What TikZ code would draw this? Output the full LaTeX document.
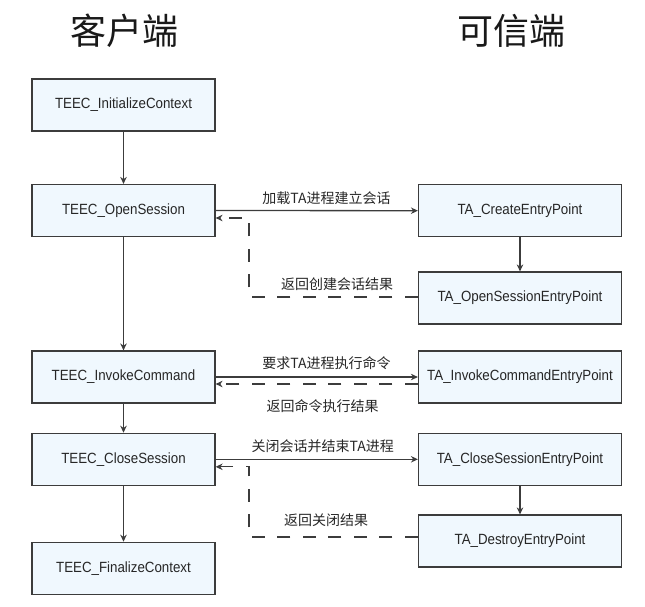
\documentclass[tikz,border=0pt]{standalone}
\usepackage{fontspec}
\setmainfont{Liberation Sans}
\newfontfamily\boxfont[FakeStretch=0.9]{Liberation Sans}
\newfontfamily\cjk{Noto Sans CJK SC}
\usetikzlibrary{arrows.meta}
\definecolor{boxfill}{RGB}{240,248,254}
\definecolor{linec}{RGB}{60,60,60}
\tikzset{
  fbox/.style={draw=linec, line width=1.2pt, fill=boxfill, inner sep=0pt,
    minimum height=52pt, font=\boxfont\fontsize{14.8}{16}\selectfont, text=black!85},
  lbox/.style={fbox, minimum width=183pt},
  rbox/.style={fbox, minimum width=203pt},
  flow/.style={draw=linec, line width=1.3pt, -{Stealth[length=7pt,width=6.5pt]}},
  ret/.style={draw=linec, line width=1.3pt, dash pattern=on 13pt off 12.5pt, -{Stealth[length=7pt,width=6.5pt]}},
  lab/.style={font=\cjk\fontsize{14}{16}\selectfont, text=black!85, inner sep=0pt},
  title/.style={font=\cjk\fontsize{36}{40}\selectfont, text=black!90, inner sep=0pt}
}
\begin{document}
\begin{tikzpicture}[x=1pt,y=-1pt]
\useasboundingbox (0,0) rectangle (645,606);
\node[title] (t1) at (124.5,30.5) {客户端};
\node[title] (t2) at (511,30.5) {可信端};

\node[lbox] (init) at (123.5,105) {TEEC\_InitializeContext};
\node[lbox] (open) at (123.5,210.5) {TEEC\_OpenSession};
\node[lbox] (invoke) at (123.5,377) {TEEC\_InvokeCommand};
\node[lbox] (close) at (123.5,459.3) {TEEC\_CloseSession};
\node[lbox] (final) at (123.5,568.3) {TEEC\_FinalizeContext};

\node[rbox] (create) at (520,210.7) {TA\_CreateEntryPoint};
\node[rbox] (opsess) at (520,298) {TA\_OpenSessionEntryPoint};
\node[rbox] (inve) at (520,377) {TA\_InvokeCommandEntryPoint};
\node[rbox] (closee) at (520,459.3) {TA\_CloseSessionEntryPoint};
\node[rbox] (destroy) at (520,541) {TA\_DestroyEntryPoint};

\coordinate (c1) at (249,297);
\coordinate (c2) at (249,537);

\draw[flow] (init) -- (open);
\draw[flow] (open) -- (invoke);
\draw[flow] (invoke) -- (close);
\draw[flow] (close) -- (final);
\draw[flow] (create) -- (opsess);
\draw[flow] (closee) -- (destroy);

\draw[flow] (open.east) -- (create.west);
\draw[ret] ([yshift=1pt]opsess.west) -- (c1) |- ([yshift=-7.5pt]open.east);

\draw[flow] (invoke.east) -- (inve.west);
\draw[ret] ([yshift=-7pt]inve.west) -- ([yshift=-7pt]invoke.east);

\draw[flow] (close.east) -- (closee.west);
\draw[ret] ([yshift=4pt]destroy.west) -- (c2) |- ([yshift=-7.5pt]close.east);

\node[lab] (l1) at (326.5,198) {加载TA进程建立会话};
\node[lab] (l2) at (337,284) {返回创建会话结果};
\node[lab] (l3) at (326.5,362.7) {要求TA进程执行命令};
\node[lab] (l4) at (322.5,405.7) {返回命令执行结果};
\node[lab] (l5) at (322.7,446) {关闭会话并结束TA进程};
\node[lab] (l6) at (326,520) {返回关闭结果};
\end{tikzpicture}
\end{document}
